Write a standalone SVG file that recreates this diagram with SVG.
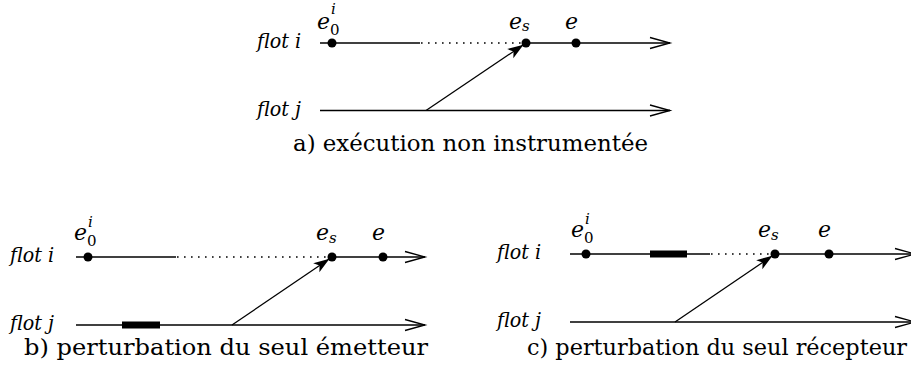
<svg xmlns="http://www.w3.org/2000/svg" width="911" height="376" viewBox="0 0 911 376">
<defs>
<marker id="open" markerUnits="userSpaceOnUse" markerWidth="24" markerHeight="16" viewBox="-22 -8 24 16" refX="0" refY="0" orient="auto" overflow="visible">
<path d="M-20,-5.5 L0,0 L-20,5.5" fill="none" stroke="#000" stroke-width="1.3"/>
</marker>
<marker id="fill" markerUnits="userSpaceOnUse" markerWidth="20" markerHeight="14" viewBox="-18 -7 20 14" refX="0" refY="0" orient="auto" overflow="visible">
<path d="M0,0 L-16,-5.5 L-12,0 L-16,5.5 Z" fill="#000"/>
</marker>
</defs>
<rect width="911" height="376" fill="#fff"/>
<g id="panel-a">
<g id="a-labels">
<text font-family="DejaVu Serif" font-style="italic" font-size="20" x="257" y="48" textLength="44" lengthAdjust="spacingAndGlyphs">flot i</text>
<text font-family="DejaVu Serif" font-style="italic" font-size="20" x="257" y="116" textLength="44" lengthAdjust="spacingAndGlyphs">flot j</text>
</g>
<g id="a-connectors" stroke="#000" stroke-width="1.3" fill="none">
<line x1="320" y1="43" x2="420" y2="43"/>
<line stroke-dasharray="1.6 5.4" x1="421" y1="43" x2="522" y2="43"/>
<line x1="526" y1="43" x2="670" y2="43" marker-end="url(#open)"/>
<line x1="320" y1="110.5" x2="670" y2="110.5" marker-end="url(#open)"/>
<line x1="426" y1="110.5" x2="523.5" y2="44.7" marker-end="url(#fill)"/>
</g>
<g id="a-e0"><circle fill="#000" cx="332" cy="43" r="4.5"/><text font-family="DejaVu Serif" font-style="italic" font-size="22" x="317" y="28.5">e</text><text font-family="DejaVu Serif" font-size="15" x="330" y="34.5">0</text><text font-family="DejaVu Serif" font-style="italic" font-size="15" x="331" y="13.5">i</text></g>
<g id="a-es"><circle fill="#000" cx="526" cy="43" r="4.5"/><text font-family="DejaVu Serif" font-style="italic" font-size="22" x="509" y="28.5">e</text><text font-family="DejaVu Serif" font-style="italic" font-size="15" x="522" y="31">s</text></g>
<g id="a-e"><circle fill="#000" cx="576" cy="43" r="4.5"/><text font-family="DejaVu Serif" font-style="italic" font-size="22" x="565" y="28.5">e</text></g>
<text font-family="DejaVu Serif" font-size="23" x="293" y="151" textLength="355" lengthAdjust="spacingAndGlyphs">a) exécution non instrumentée</text>
</g>
<g id="panel-b">
<g id="b-labels">
<text font-family="DejaVu Serif" font-style="italic" font-size="20" x="10" y="262" textLength="44" lengthAdjust="spacingAndGlyphs">flot i</text>
<text font-family="DejaVu Serif" font-style="italic" font-size="20" x="10" y="330" textLength="44" lengthAdjust="spacingAndGlyphs">flot j</text>
</g>
<g id="b-connectors" stroke="#000" stroke-width="1.3" fill="none">
<line x1="76" y1="257" x2="176" y2="257"/>
<line stroke-dasharray="1.6 5.4" x1="177" y1="257" x2="328" y2="257"/>
<line x1="332" y1="257" x2="425" y2="257" marker-end="url(#open)"/>
<line x1="76" y1="325" x2="425" y2="325" marker-end="url(#open)"/>
<line x1="232" y1="325" x2="329.5" y2="258.7" marker-end="url(#fill)"/>
</g>
<rect id="b-bar" fill="#000" x="122" y="321.5" width="38" height="7"/>
<g id="b-e0"><circle fill="#000" cx="88" cy="257" r="4.5"/><text font-family="DejaVu Serif" font-style="italic" font-size="22" x="74" y="240">e</text><text font-family="DejaVu Serif" font-size="15" x="87" y="246">0</text><text font-family="DejaVu Serif" font-style="italic" font-size="15" x="88" y="227">i</text></g>
<g id="b-es"><circle fill="#000" cx="332" cy="257" r="4.5"/><text font-family="DejaVu Serif" font-style="italic" font-size="22" x="316" y="240">e</text><text font-family="DejaVu Serif" font-style="italic" font-size="15" x="329" y="242.5">s</text></g>
<g id="b-e"><circle fill="#000" cx="383" cy="257" r="4.5"/><text font-family="DejaVu Serif" font-style="italic" font-size="22" x="372" y="240">e</text></g>
<text font-family="DejaVu Serif" font-size="23" x="24" y="355" textLength="404" lengthAdjust="spacingAndGlyphs">b) perturbation du seul émetteur</text>
</g>
<g id="panel-c">
<g id="c-labels">
<text font-family="DejaVu Serif" font-style="italic" font-size="20" x="497" y="259" textLength="44" lengthAdjust="spacingAndGlyphs">flot i</text>
<text font-family="DejaVu Serif" font-style="italic" font-size="20" x="497" y="327" textLength="44" lengthAdjust="spacingAndGlyphs">flot j</text>
</g>
<g id="c-connectors" stroke="#000" stroke-width="1.3" fill="none">
<line x1="570" y1="254" x2="710" y2="254"/>
<line stroke-dasharray="1.6 5.4" x1="711" y1="254" x2="771" y2="254"/>
<line x1="775" y1="254" x2="915" y2="254" marker-end="url(#open)"/>
<line x1="570" y1="322" x2="915" y2="322" marker-end="url(#open)"/>
<line x1="675" y1="322" x2="772.5" y2="255.7" marker-end="url(#fill)"/>
</g>
<rect id="c-bar" fill="#000" x="650" y="250.5" width="37" height="7"/>
<g id="c-e0"><circle fill="#000" cx="586" cy="254" r="4.5"/><text font-family="DejaVu Serif" font-style="italic" font-size="22" x="571" y="237">e</text><text font-family="DejaVu Serif" font-size="15" x="584" y="243">0</text><text font-family="DejaVu Serif" font-style="italic" font-size="15" x="585" y="224">i</text></g>
<g id="c-es"><circle fill="#000" cx="775" cy="254" r="4.5"/><text font-family="DejaVu Serif" font-style="italic" font-size="22" x="758" y="237">e</text><text font-family="DejaVu Serif" font-style="italic" font-size="15" x="771" y="239.5">s</text></g>
<g id="c-e"><circle fill="#000" cx="829" cy="254" r="4.5"/><text font-family="DejaVu Serif" font-style="italic" font-size="22" x="818" y="237">e</text></g>
<text font-family="DejaVu Serif" font-size="23" x="527" y="355" textLength="380" lengthAdjust="spacingAndGlyphs">c) perturbation du seul récepteur</text>
</g>
</svg>
